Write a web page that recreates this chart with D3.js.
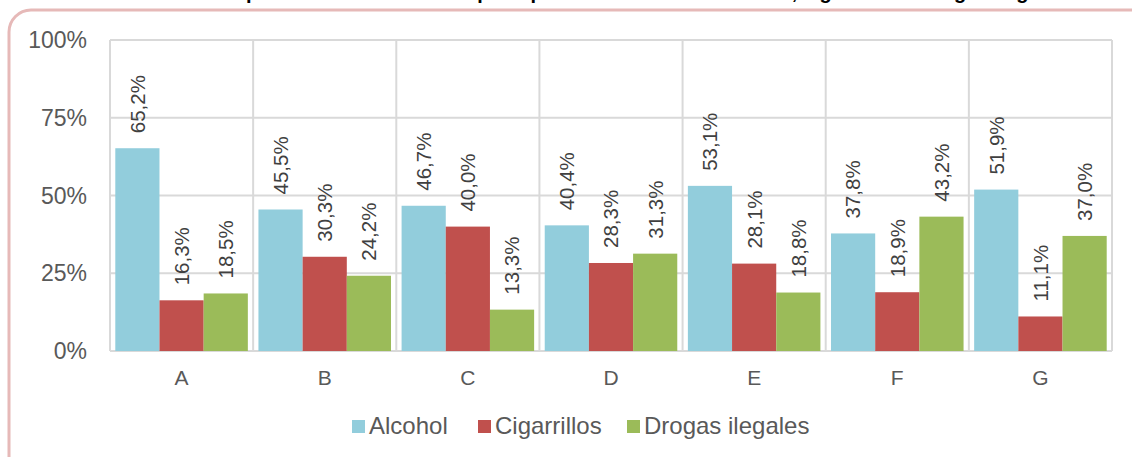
<!doctype html>
<html>
<head>
<meta charset="utf-8">
<style>
  body { margin: 0; background: #fff; }
  text { font-family: "Liberation Sans", Arial, sans-serif; }
</style>
<script src="https://d3js.org/d3.v7.min.js"></script>
</head>
<body>
<script>
// data
var categories = ["A", "B", "C", "D", "E", "F", "G"];
var seriesNames = ["Alcohol", "Cigarrillos", "Drogas ilegales"];
var alcohol = [65.2, 45.5, 46.7, 40.4, 53.1, 37.8, 51.9];
var cigarrillos = [16.3, 30.3, 40.0, 28.3, 28.1, 18.9, 11.1];
var drogas = [18.5, 24.2, 13.3, 31.3, 18.8, 43.2, 37.0];
var yTicks = [0, 25, 50, 75, 100];
var colors = ["#92cddc", "#c0504d", "#9bbb59"];

var canvasWidth = 1132;
var canvasHeight = 457;

var svg = d3.select("body").append("svg")
    .attr("width", canvasWidth)
    .attr("height", canvasHeight);

// rounded frame, partly outside the window
svg.append("rect")
    .attr("x", 9).attr("y", 10)
    .attr("width", 1150).attr("height", 470)
    .attr("rx", 22).attr("ry", 22)
    .attr("fill", "none")
    .attr("stroke", "#e6b9b8")
    .attr("stroke-width", 3);

// title, cut off by the top of the window (only descenders show)
svg.append("text")
    .attr("x", 640).attr("y", -1)
    .attr("text-anchor", "middle")
    .attr("font-size", "20px")
    .attr("font-weight", "bold")
    .attr("fill", "#000")
    .text("Proporción de estudiantes que reportan consumo de alcohol, cigarrillos o drogas ilegales");

var plotLeft = 110, plotRight = 1112, plotTop = 40, plotBottom = 351;

var xScale = d3.scaleBand()
    .domain(categories)
    .range([plotLeft, plotRight])
    .padding(0);
var inner = d3.scaleBand()
    .domain(seriesNames)
    .range([0, xScale.bandwidth()])
    .paddingOuter(0.12)
    .paddingInner(0);
var yScale = d3.scaleLinear()
    .domain([0, 100])
    .range([plotBottom, plotTop]);

var g = svg.append("g");

// horizontal gridlines
g.selectAll(".hgrid")
    .data(yTicks)
    .enter().append("line")
    .attr("x1", plotLeft).attr("x2", plotRight)
    .attr("y1", function(d) { return yScale(d); })
    .attr("y2", function(d) { return yScale(d); })
    .attr("stroke", "#d9d9d9")
    .attr("stroke-width", 2);

// vertical gridlines at category boundaries
var bounds = categories.map(function(c) { return xScale(c); }).concat([plotRight]);
g.selectAll(".vgrid")
    .data(bounds)
    .enter().append("line")
    .attr("x1", function(d) { return d; })
    .attr("x2", function(d) { return d; })
    .attr("y1", plotTop).attr("y2", plotBottom)
    .attr("stroke", "#d9d9d9")
    .attr("stroke-width", 2);

// y tick labels
g.selectAll(".ylab")
    .data(yTicks)
    .enter().append("text")
    .attr("x", 87)
    .attr("y", function(d) { return yScale(d); })
    .attr("dy", "0.35em")
    .attr("text-anchor", "end")
    .attr("font-size", "23px")
    .attr("fill", "#595959")
    .text(function(d) { return d + "%"; });

// category labels
g.selectAll(".xlab")
    .data(categories)
    .enter().append("text")
    .attr("x", function(d) { return xScale(d) + xScale.bandwidth() / 2; })
    .attr("y", 385)
    .attr("text-anchor", "middle")
    .attr("font-size", "21px")
    .attr("fill", "#595959")
    .text(function(d) { return d; });

var series = [alcohol, cigarrillos, drogas];
series.forEach(function(vals, si) {
    var name = seriesNames[si];
    var bars = g.append("g");
    bars.selectAll("rect")
        .data(vals)
        .enter().append("rect")
        .attr("x", function(d, i) { return xScale(categories[i]) + inner(name); })
        .attr("y", function(d) { return yScale(d); })
        .attr("width", inner.bandwidth())
        .attr("height", function(d) { return plotBottom - yScale(d); })
        .attr("fill", colors[si]);

    bars.selectAll("text")
        .data(vals)
        .enter().append("text")
        .attr("transform", function(d, i) {
            var cx = xScale(categories[i]) + inner(name) + inner.bandwidth() / 2;
            return "translate(" + cx + "," + (yScale(d) - 15) + ") rotate(-90)";
        })
        .attr("dy", "0.36em")
        .attr("text-anchor", "start")
        .attr("font-size", "20.5px")
        .attr("fill", "#404040")
        .text(function(d) { return d.toFixed(1).replace(".", ",") + "%"; });
});

// legend
var legendX = [352, 478, 627];
var legend = svg.append("g");
seriesNames.forEach(function(name, i) {
    legend.append("rect")
        .attr("x", legendX[i]).attr("y", 420)
        .attr("width", 13).attr("height", 13)
        .attr("fill", colors[i]);
    legend.append("text")
        .attr("x", legendX[i] + 17).attr("y", 434)
        .attr("font-size", "24px")
        .attr("fill", "#595959")
        .text(name);
});
</script>
</body>
</html>
